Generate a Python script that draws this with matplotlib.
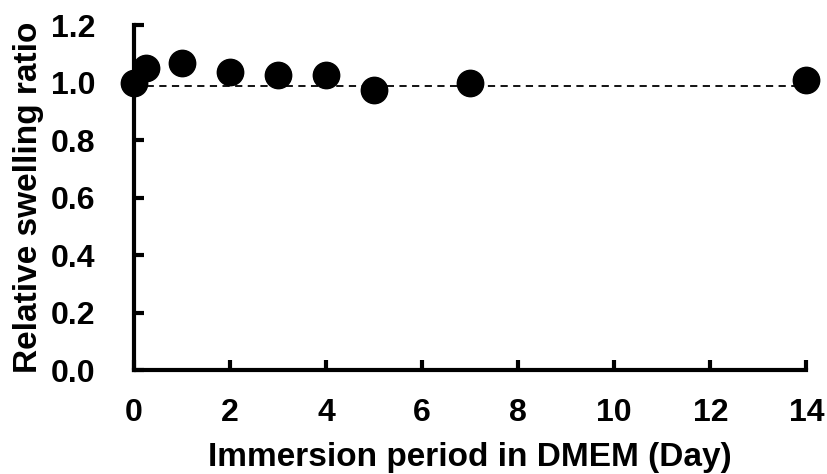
import numpy as np
import matplotlib.pyplot as plt

plt.rcParams['font.family'] = ['Liberation Sans', 'DejaVu Sans']
plt.rcParams['font.weight'] = 'bold'

days = [0, 0.25, 1, 2, 3, 4, 5, 7, 14]
ratio = [1.0, 1.05, 1.068, 1.037, 1.026, 1.026, 0.974, 1.0, 1.01]
ref_level = 0.99

fig = plt.figure(figsize=(8.27, 4.74), dpi=100)
ax = fig.add_axes([0.162, 0.219, 0.813, 0.728])

ax.axhline(ref_level, color='black', lw=1.3, ls=(0, (4, 3)), zorder=1)
ax.plot(days, ratio, 'o', color='black', ms=19, clip_on=False, zorder=3)

ax.set_xlim(0, 14)
ax.set_ylim(0, 1.2)
ax.set_xticks(np.arange(0, 15, 2))
ax.set_yticks(np.arange(0, 1.21, 0.2))
ax.set_yticklabels([f"{v:.1f}" for v in np.arange(0, 1.21, 0.2)])

for s in ['top', 'right']:
    ax.spines[s].set_visible(False)
for s in ['left', 'bottom']:
    ax.spines[s].set_linewidth(3)

ax.tick_params(direction='in', length=7, width=3, labelsize=23)
ax.tick_params(axis='y', pad=28)
ax.tick_params(axis='x', pad=20)
ax.set_xlabel("Immersion period in DMEM (Day)", fontsize=24, fontweight='bold', labelpad=10)
ax.set_ylabel("Relative swelling ratio", fontsize=24, fontweight='bold', labelpad=5)

plt.savefig("out.png")
